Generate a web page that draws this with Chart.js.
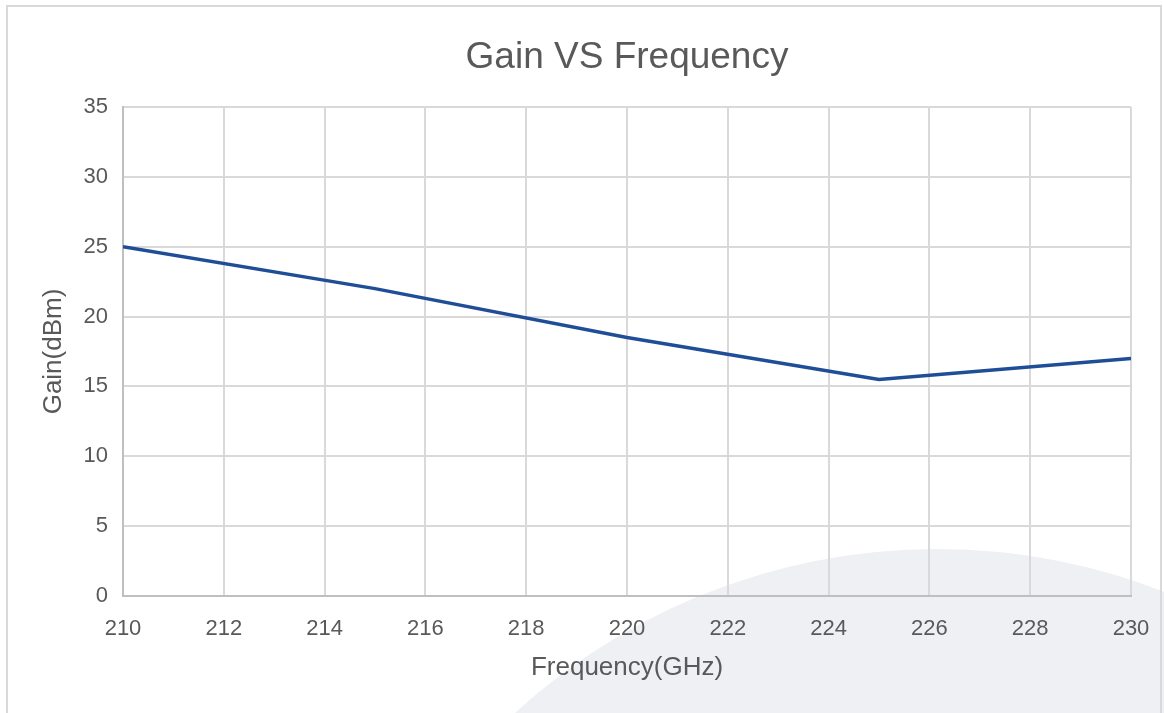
<!DOCTYPE html>
<html>

<head>
    <title>Gain VS Frequency</title>
    <script src="https://cdn.jsdelivr.net/npm/chart.js"></script>
    <style>
        html, body { margin: 0; padding: 0; background: #fff; overflow: hidden; }
        .frame { position: relative; width: 1164px; height: 713px; overflow: hidden; }
        .blob { position: absolute; left: 312px; top: 549px; width: 1250px; height: 1250px;
                border-radius: 50%; background: #eff0f4; }
        .border { position: absolute; left: 6px; top: 5px; width: 1152px; height: 800px;
                  border: 2px solid #d9d9d9; }
        .gain-chart { position: absolute; left: 0; top: 0; width: 1164px; height: 713px; }
    </style>
</head>

<body>
    <div class="frame">
        <div class="blob"></div>
        <div class="border"></div>
        <div class="gain-chart">
            <canvas id="chart"></canvas>
        </div>
    </div>

    <script type="text/javascript">
        // values
        const freqGHz = [210, 215, 220, 225, 230];
        const gainDbm = [25, 22, 18.5, 15.5, 17];

        const xTicks = [210, 212, 214, 216, 218, 220, 222, 224, 226, 228, 230];
        const yTicks = [0, 5, 10, 15, 20, 25, 30, 35];

        const grey = '#595959';
        const fontFamily = '"Liberation Sans", Arial, sans-serif';

        const ctx = document.getElementById('chart');
        let chart = new Chart(ctx, {
            type: 'line',
            data: {
                datasets: [{
                    label: 'Gain',
                    data: freqGHz.map((f, i) => ({ x: f, y: gainDbm[i] })),
                    borderColor: '#1f4e97',
                    borderWidth: 3.5,
                    pointRadius: 0,
                    tension: 0,
                    fill: false
                }]
            },
            options: {
                responsive: true,
                maintainAspectRatio: false,
                animation: false,
                layout: { padding: { left: 0, right: 33, top: 0, bottom: 0 } },
                plugins: {
                    legend: { display: false },
                    tooltip: { enabled: false },
                    title: {
                        display: true,
                        fullSize: false,
                        text: 'Gain VS Frequency',
                        color: grey,
                        font: { family: fontFamily, size: 37, weight: 'normal' },
                        padding: { top: 36, bottom: 26.6 }
                    }
                },
                scales: {
                    x: {
                        type: 'linear',
                        min: 210,
                        max: 230,
                        afterBuildTicks: s => { s.ticks = xTicks.map(v => ({ value: v })); },
                        afterFit: s => { s.height = 117; s.paddingLeft = 0; s.paddingRight = 0; },
                        grid: { color: '#d9d9d9', lineWidth: 2, drawTicks: false },
                        border: { color: '#bfbfbf', width: 2 },
                        ticks: {
                            color: grey,
                            padding: 20,
                            maxRotation: 0,
                            font: { family: fontFamily, size: 22 }
                        },
                        title: {
                            display: true,
                            text: 'Frequency(GHz)',
                            color: grey,
                            font: { family: fontFamily, size: 26 },
                            padding: { top: 0, bottom: 30 }
                        }
                    },
                    y: {
                        min: 0,
                        max: 35,
                        afterBuildTicks: s => { s.ticks = yTicks.map(v => ({ value: v })); },
                        afterFit: s => { s.width = 123; },
                        grid: { color: '#d9d9d9', lineWidth: 2, drawTicks: false },
                        border: { color: '#bfbfbf', width: 2 },
                        ticks: {
                            color: grey,
                            padding: 15,
                            font: { family: fontFamily, size: 22 }
                        },
                        title: {
                            display: true,
                            text: 'Gain(dBm)',
                            color: grey,
                            font: { family: fontFamily, size: 26 },
                            padding: { top: 38, bottom: 0 }
                        }
                    }
                }
            }
        });
    </script>
</body>

</html>
